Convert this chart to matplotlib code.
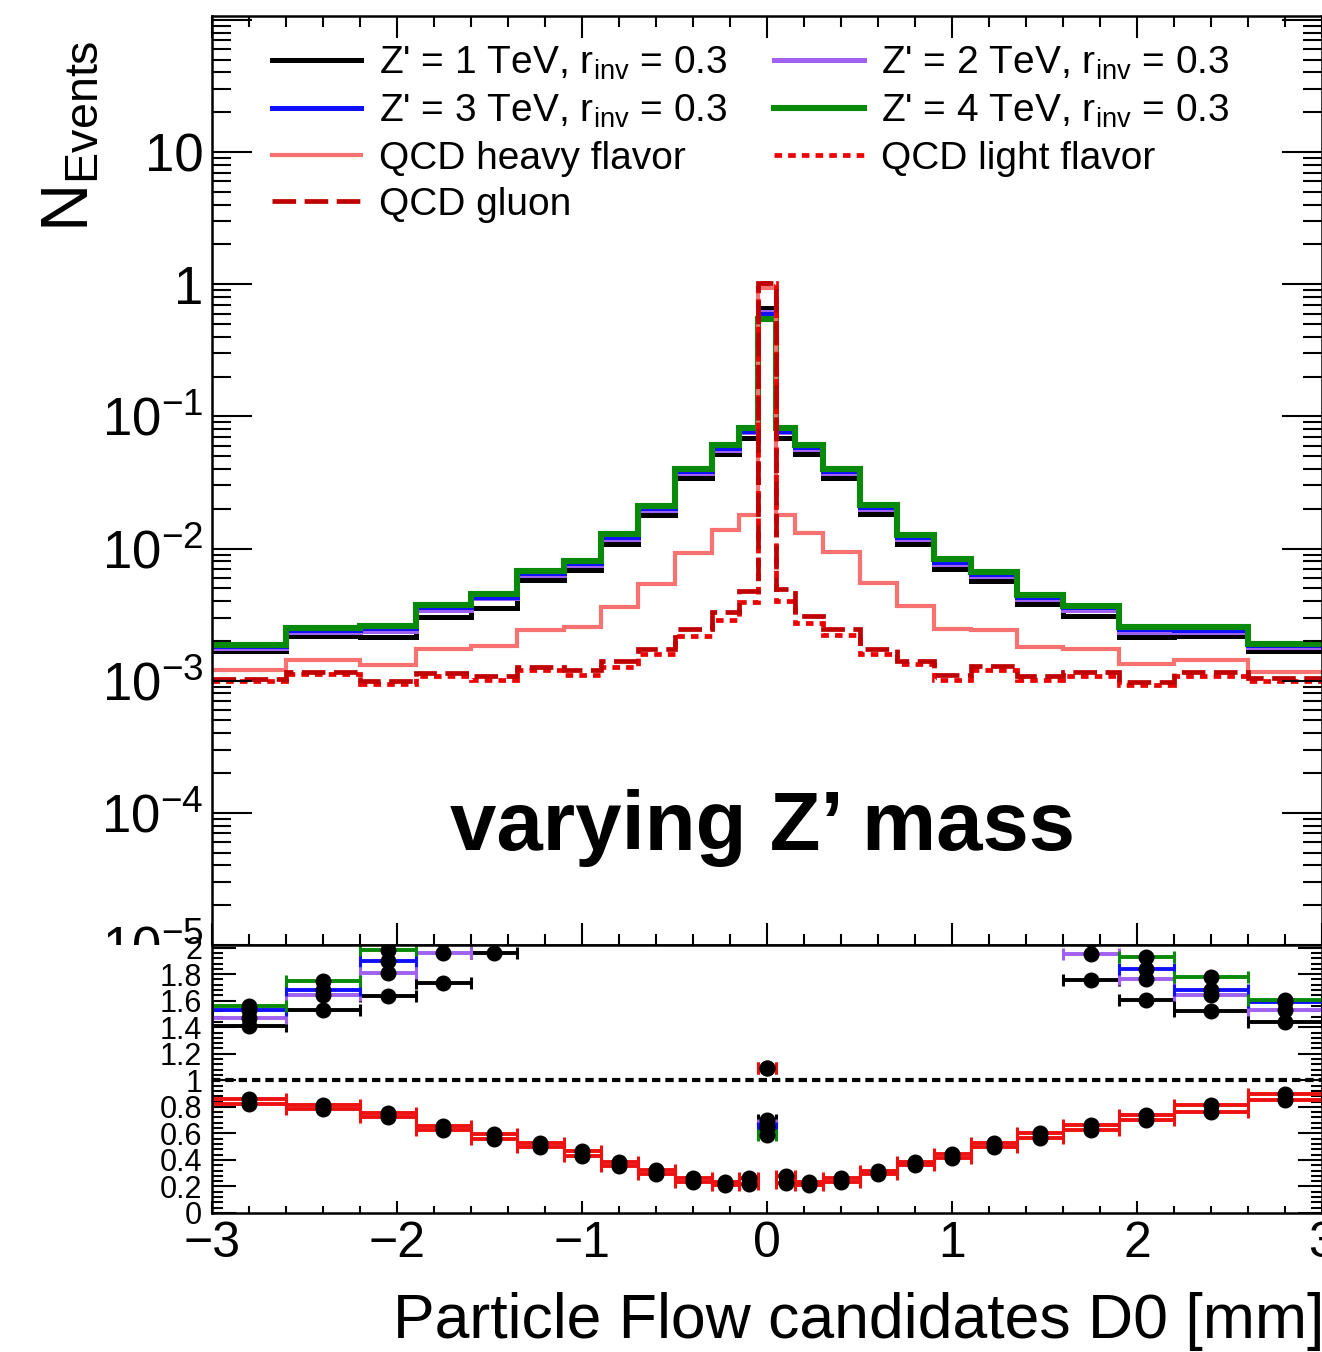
import numpy as np
import matplotlib
matplotlib.use('Agg')
import matplotlib.pyplot as plt
from matplotlib.lines import Line2D
from matplotlib.patches import Rectangle
from matplotlib.ticker import FixedLocator, FixedFormatter, MultipleLocator, LogLocator, NullFormatter

plt.rcParams['font.family'] = ['Liberation Sans', 'DejaVu Sans']
plt.rcParams['mathtext.fontset'] = 'custom'
plt.rcParams['mathtext.rm'] = 'Liberation Sans'
plt.rcParams['mathtext.it'] = 'Liberation Sans:italic'
plt.rcParams['mathtext.bf'] = 'Liberation Sans:bold'

# bin edges of D0 [mm]
edges = [-3, -2.6, -2.2, -1.9, -1.6, -1.35, -1.1, -0.9, -0.7, -0.5, -0.3, -0.15, -0.05,
         0.05, 0.15, 0.3, 0.5, 0.7, 0.9, 1.1, 1.35, 1.6, 1.9, 2.2, 2.6, 3]

# normalised histograms
zp1 = [1.69e-3, 2.19e-3, 2.14e-3, 3.03e-3, 3.57e-3, 5.8e-3, 6.9e-3, 0.0109, 0.0178, 0.034, 0.0515, 0.069,
       0.66, 0.069, 0.052, 0.034, 0.0182, 0.0108, 7.0e-3, 5.7e-3, 3.8e-3, 3.07e-3, 2.14e-3, 2.18e-3, 1.68e-3]
zp2 = [1.76e-3, 2.35e-3, 2.37e-3, 3.43e-3, 4.2e-3, 6.3e-3, 7.5e-3, 0.0119, 0.0196, 0.0375, 0.056, 0.0755,
       0.62, 0.0755, 0.057, 0.0375, 0.020, 0.0119, 7.7e-3, 6.2e-3, 4.15e-3, 3.41e-3, 2.35e-3, 2.35e-3, 1.79e-3]
zp3 = [1.84e-3, 2.40e-3, 2.49e-3, 3.6e-3, 4.3e-3, 6.5e-3, 7.75e-3, 0.0123, 0.0202, 0.0386, 0.0578, 0.078,
       0.60, 0.078, 0.0585, 0.0386, 0.0205, 0.0122, 7.95e-3, 6.4e-3, 4.28e-3, 3.6e-3, 2.45e-3, 2.40e-3, 1.86e-3]
zp4 = [1.87e-3, 2.5e-3, 2.6e-3, 3.76e-3, 4.5e-3, 6.8e-3, 8.1e-3, 0.0129, 0.0211, 0.0403, 0.0603, 0.0813,
       0.55, 0.0813, 0.061, 0.0403, 0.0214, 0.0127, 8.3e-3, 6.7e-3, 4.47e-3, 3.7e-3, 2.57e-3, 2.54e-3, 1.88e-3]
qcd_heavy = [1.2e-3, 1.43e-3, 1.31e-3, 1.75e-3, 1.82e-3, 2.43e-3, 2.57e-3, 3.63e-3, 5.43e-3, 9.3e-3, 0.0139, 0.018,
             0.94, 0.0178, 0.0131, 9.4e-3, 5.5e-3, 3.7e-3, 2.47e-3, 2.43e-3, 1.8e-3, 1.75e-3, 1.33e-3, 1.43e-3, 1.17e-3]
qcd_light = [0.99e-3, 1.12e-3, 0.95e-3, 1.09e-3, 1.02e-3, 1.2e-3, 1.11e-3, 1.28e-3, 1.58e-3, 2.17e-3, 2.9e-3, 3.95e-3,
             1.03, 4.0e-3, 2.75e-3, 2.2e-3, 1.6e-3, 1.33e-3, 1.02e-3, 1.2e-3, 1.02e-3, 1.09e-3, 0.93e-3, 1.09e-3, 1.0e-3]
qcd_gluon = [1.03e-3, 1.16e-3, 0.99e-3, 1.15e-3, 1.08e-3, 1.28e-3, 1.21e-3, 1.40e-3, 1.74e-3, 2.45e-3, 3.3e-3, 4.8e-3,
             1.03, 4.9e-3, 3.1e-3, 2.45e-3, 1.75e-3, 1.42e-3, 1.1e-3, 1.29e-3, 1.09e-3, 1.16e-3, 0.98e-3, 1.16e-3, 1.05e-3]

up_ticks = [1e-5, 1e-4, 1e-3, 1e-2, 1e-1, 1, 10, 100]
up_labels = [r'$10^{-5}$', r'$10^{-4}$', r'$10^{-3}$', r'$10^{-2}$', r'$10^{-1}$', '1', '10', '']
lo_ticks = [0, 0.2, 0.4, 0.6, 0.8, 1.0, 1.2, 1.4, 1.6, 1.8, 2.0]
lo_labels = ['0', '0.2', '0.4', '0.6', '0.8', '1', '1.2', '1.4', '1.6', '1.8', '2']

sig_labels = ["Z' = 1 TeV, r$_{\\rm inv}$ = 0.3", "Z' = 2 TeV, r$_{\\rm inv}$ = 0.3",
              "Z' = 3 TeV, r$_{\\rm inv}$ = 0.3", "Z' = 4 TeV, r$_{\\rm inv}$ = 0.3"]
sig_colors = ['#000000', '#a060f0', '#1010ff', '#0a8a0a']
sig_lw = [3.6, 3.6, 3.6, 4.4]

W, H = 1322., 1352.
fig = plt.figure(figsize=(W / 100, H / 100), dpi=100)
left = 212 / W
y_mid = 1 - 945 / H
ax1 = fig.add_axes([left, y_mid, 1 - left, (945 - 16) / H])
ax2 = fig.add_axes([left, 1 - 1213 / H, 1 - left, (1213 - 945) / H])
ax1.set_zorder(0)
ax2.set_zorder(2)
# lower pad covers the upper pad below its frame (like ROOT)
fig.add_artist(Rectangle((0, 0), 1, y_mid, transform=fig.transFigure,
                         facecolor='white', edgecolor='none', zorder=1))

edges = np.array(edges)
centers = 0.5 * (edges[1:] + edges[:-1])
hw = 0.5 * (edges[1:] - edges[:-1])

sigs = [zp1, zp2, zp3, zp4]
for h, c, lw in zip(sigs, sig_colors, sig_lw):
    ax1.stairs(h, edges, baseline=None, color=c, lw=lw)
ax1.stairs(qcd_heavy, edges, baseline=None, color='#f87272', lw=3.0)
ax1.stairs(qcd_light, edges, baseline=None, color='#ee0000', lw=3.4, ls=(0, (1.6, 1.3)))
ax1.stairs(qcd_gluon, edges, baseline=None, color='#c00000', lw=3.4, ls=(0, (5, 1.8)))

ax1.set_yscale('log')
ax1.set_xlim(-3, 3)
ax1.set_ylim(1e-5, 107)
ax1.yaxis.set_major_locator(FixedLocator(up_ticks))
ax1.yaxis.set_major_formatter(FixedFormatter(up_labels))
ax1.yaxis.set_minor_locator(LogLocator(base=10, subs=np.arange(2, 10), numticks=30))
ax1.yaxis.set_minor_formatter(NullFormatter())
ax1.xaxis.set_major_locator(MultipleLocator(1))
ax1.xaxis.set_minor_locator(MultipleLocator(0.2))
ax1.tick_params(which='both', direction='in', top=True, right=True, labelbottom=False, width=1.5)
ax1.tick_params(axis='y', which='major', length=29, labelsize=38, pad=6)
ax1.tick_params(axis='y', which='minor', length=14)
ax1.tick_params(axis='x', which='major', length=16)
ax1.tick_params(axis='x', which='minor', length=8)

# ratio to QCD heavy flavor
ref = np.array(qcd_heavy)
eb = dict(fmt='o', mfc='k', mec='k', ms=10.5, elinewidth=2.8, capsize=4.5, capthick=2.2)
for h, c in zip(sigs, sig_colors):
    ax2.errorbar(centers, np.array(h) / ref, xerr=hw, color=c, ecolor=c, **eb)
for h in [qcd_light, qcd_gluon]:
    ax2.errorbar(centers, np.array(h) / ref, xerr=hw, color='#ee1111', ecolor='#ee1111', **eb)
ax2.axhline(1, color='k', lw=3.0, ls=(0, (2, 1.2)), zorder=1)

ax2.set_xlim(-3, 3)
ax2.set_ylim(0, 2.02)
ax2.yaxis.set_major_locator(FixedLocator(lo_ticks))
ax2.yaxis.set_major_formatter(FixedFormatter(lo_labels))
ax2.yaxis.set_minor_locator(MultipleLocator(0.04))
ax2.xaxis.set_major_locator(MultipleLocator(1))
ax2.xaxis.set_minor_locator(MultipleLocator(0.2))
ax2.tick_params(which='both', direction='in', top=False, right=True, width=1.5)
ax2.tick_params(axis='y', which='major', length=17, labelsize=22, pad=7)
ax2.tick_params(axis='y', which='minor', length=8)
ax2.tick_params(axis='x', which='major', length=9, labelsize=36, pad=6)
ax2.tick_params(axis='x', which='minor', length=5)

for ax in (ax1, ax2):
    for s in ax.spines.values():
        s.set_linewidth(1.8)

# legend, filled row-wise like the ROOT TLegend
handles = [Line2D([], [], color=sig_colors[0], lw=3.6),
           Line2D([], [], color=sig_colors[2], lw=3.6),
           Line2D([], [], color='#f87272', lw=3.0),
           Line2D([], [], color='#c00000', lw=3.4, ls=(0, (5, 1.8))),
           Line2D([], [], color=sig_colors[1], lw=3.6),
           Line2D([], [], color=sig_colors[3], lw=4.4),
           Line2D([], [], color='#ee0000', lw=3.4, ls=(0, (1.6, 1.3)))]
labels = [sig_labels[0], sig_labels[2], 'QCD heavy flavor', 'QCD gluon',
          sig_labels[1], sig_labels[3], 'QCD light flavor']
fig.legend(handles, labels, loc='upper left', bbox_to_anchor=(272 / W, 1 - 45 / H),
           ncol=2, frameon=False, fontsize=28, handlelength=2.3, handletextpad=0.45,
           columnspacing=1.2, labelspacing=0.27, borderpad=0, borderaxespad=0)

fig.text(763 / W, 1 - 850 / H, 'varying Z\u2019 mass', ha='center', va='baseline',
         fontsize=60, fontweight='bold')
fig.text(1.002, 1 - 1338 / H, 'Particle Flow candidates D0 [mm]', ha='right', va='baseline', fontsize=45)
fig.text(70 / W, 1 - 40 / H, r'N$_{\rm Events}$', rotation=90, ha='center', va='top', fontsize=48)

fig.savefig('out.png', dpi=100)
